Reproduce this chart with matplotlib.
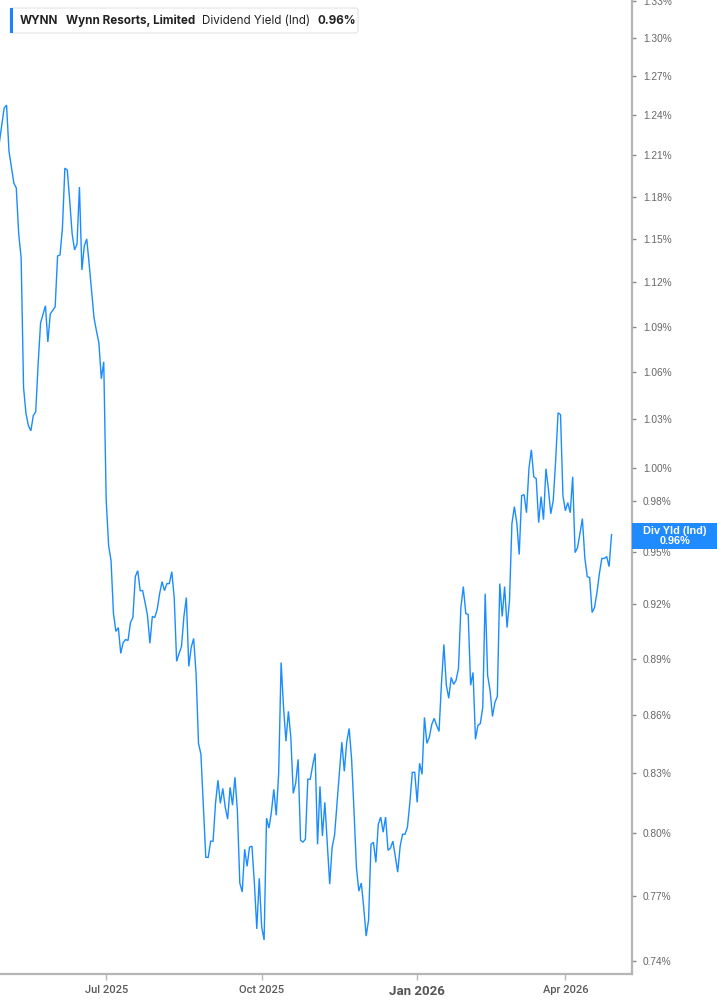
import numpy as np
import pandas as pd
import matplotlib
matplotlib.use("Agg")
import matplotlib.pyplot as plt
from matplotlib.ticker import FixedLocator, NullLocator, FixedFormatter
from matplotlib.patches import Rectangle, FancyBboxPatch

# ---------------- data ----------------
ticker_symbol = "WYNN"
company_name = "Wynn Resorts, Limited"
metric_name = "Dividend Yield (Ind)"
last_value_text = "0.96%"
box_title = "Div Yld (Ind)"

start_date = "2025-04-28"
market_holidays = ["2025-05-26", "2025-06-19", "2025-07-04", "2025-09-01",
                   "2025-11-27", "2025-12-25", "2026-01-01", "2026-01-19",
                   "2026-02-16", "2026-04-03", "2026-05-25"]

# trading-session number (0 = start_date) of each read point
session_early = [0, 2, 3, 4, 6, 7, 8, 9, 10, 11, 12, 13, 14, 15, 16, 17, 19, 20,
                 21, 23, 24, 25, 26, 27, 28, 29, 30, 31, 32, 33, 34, 35, 36, 37,
                 39, 40, 41, 42, 43]
session_daily = list(range(44, 253))   # consecutive sessions from here on

# dividend yield, percent
yield_early = [1.2192, 1.2455, 1.2478, 1.2132, 1.1898, 1.1862, 1.1534, 1.1366, 1.0500, 1.0335,
               1.0260, 1.0228, 1.0323, 1.0348, 1.0655, 1.0925, 1.1039, 1.0798, 1.0985, 1.1032,
               1.1380, 1.1387, 1.1576, 1.2007, 1.1992, 1.1768, 1.1534, 1.1422, 1.1464, 1.1869,
               1.1283, 1.1450, 1.1499, 1.1324, 1.0958, 1.0871, 1.0792, 1.0558, 1.0668]
yield_daily = [
    0.9807, 0.9536, 0.9449, 0.9148, 0.9049, 0.9070, 0.8928, 0.8988, 0.9004, 0.8999,
    0.9098, 0.9126, 0.9357, 0.9391, 0.9277, 0.9277, 0.9210, 0.9137, 0.8983, 0.9132,
    0.9126, 0.9171, 0.9260, 0.9328, 0.9277, 0.9317, 0.9317, 0.9385, 0.9238, 0.8885,
    0.8928, 0.8966, 0.9132, 0.9238, 0.8858, 0.8961, 0.9010, 0.8820, 0.8451, 0.8395,
    0.8138, 0.7883, 0.7883, 0.7961, 0.7961, 0.8147, 0.8263, 0.8147, 0.8222, 0.8128,
    0.8069, 0.8227, 0.8138, 0.8278, 0.8113, 0.7760, 0.7718, 0.7922, 0.7840, 0.7932,
    0.7937, 0.7760, 0.7546, 0.7783, 0.7555, 0.7495, 0.8074, 0.8025, 0.8103, 0.8217,
    0.8088, 0.8298, 0.8879, 0.8639, 0.8462, 0.8618, 0.8482, 0.8197, 0.8248, 0.8369,
    0.7966, 0.7956, 0.7971, 0.8268, 0.8268, 0.8339, 0.8400, 0.7946, 0.8232, 0.7986,
    0.8152, 0.7951, 0.7755, 0.7932, 0.7990, 0.8147, 0.8303, 0.8457, 0.8308, 0.8457,
    0.8528, 0.8374, 0.8113, 0.7835, 0.7722, 0.7760, 0.7647, 0.7513, 0.7587, 0.7946,
    0.7956, 0.7859, 0.8044, 0.8079, 0.8005, 0.8079, 0.7917, 0.7927, 0.7961, 0.7888,
    0.7812, 0.7937, 0.7995, 0.7995, 0.8030, 0.8152, 0.8303, 0.8303, 0.8152, 0.8349,
    0.8293, 0.8586, 0.8451, 0.8482, 0.8549, 0.8581, 0.8544, 0.8513, 0.8766, 0.8977,
    0.8756, 0.8687, 0.8798, 0.8761, 0.8782, 0.8847, 0.9182, 0.9300, 0.9148, 0.9143,
    0.8756, 0.8825, 0.8472, 0.8544, 0.8554, 0.8639, 0.9260, 0.8809, 0.8729, 0.8591,
    0.8665, 0.8697, 0.9317, 0.9132, 0.9300, 0.9070, 0.9221, 0.9664, 0.9765, 0.9670,
    0.9484, 0.9831, 0.9837, 0.9729, 0.9994, 1.0110, 0.9945, 0.9933, 0.9670, 0.9825,
    0.9688, 0.9994, 0.9873, 0.9723, 0.9801, 1.0043, 1.0341, 1.0329, 0.9831, 0.9741,
    0.9789, 0.9729, 0.9945, 0.9495, 0.9524, 0.9606, 0.9694, 0.9466, 0.9357, 0.9351,
    0.9154, 0.9182, 0.9266, 0.9374, 0.9461, 0.9461, 0.9472, 0.9414, 0.9600]

y_ticks = [0.74, 0.77, 0.80, 0.83, 0.86, 0.89, 0.92, 0.95, 0.98, 1.00, 1.03,
           1.06, 1.09, 1.12, 1.15, 1.18, 1.21, 1.24, 1.27, 1.30, 1.33]
x_tick_months = ["2025-07-01", "2025-10-01", "2026-01-01", "2026-04-01"]
x_tick_labels = ["Jul 2025", "Oct 2025", "Jan 2026", "Apr 2026"]

# ---------------- build ----------------
session = session_early + session_daily
div_yield = yield_early + yield_daily
n = min(len(session), len(div_yield))
session, div_yield = session[:n], div_yield[:n]

calendar = pd.bdate_range(start=start_date, end="2026-07-31", freq="C",
                          holidays=market_holidays)
tick_pos = [int(np.searchsorted(calendar.values, np.datetime64(m))) for m in x_tick_months]

W, H = 717, 1005
fig = plt.figure(figsize=(W / 100, H / 100), dpi=100)
fig.patch.set_facecolor("white")
ax = fig.add_axes([0, 31 / H, 631.7 / W, 974 / H])

line_color = "#1a8cff"
ax.plot(session, div_yield, color=line_color, lw=1.0, solid_joinstyle="miter")

ax.set_yscale("log")
ax.set_ylim(0.7341, 1.3305)
ax.set_xlim(0.3, 260.3)

ax.yaxis.set_major_locator(FixedLocator(y_ticks))
ax.yaxis.set_minor_locator(NullLocator())
ax.yaxis.set_major_formatter(FixedFormatter([f"{v:.2f}%" for v in y_ticks]))
ax.yaxis.tick_right()
ax.xaxis.set_major_locator(FixedLocator(tick_pos))
ax.xaxis.set_minor_locator(NullLocator())
ax.xaxis.set_major_formatter(FixedFormatter(x_tick_labels))

for side in ["left", "top"]:
    ax.spines[side].set_visible(False)
for side in ["right", "bottom"]:
    ax.spines[side].set_color("#b5b5b5")
    ax.spines[side].set_linewidth(1.6)

ax.tick_params(axis="y", which="major", direction="out", length=3, width=1.0,
               color="#888888", pad=5, labelsize=7.3, labelcolor="#666666")
ax.tick_params(axis="x", which="major", direction="out", length=4, width=1.0,
               color="#b5b5b5", pad=4, labelsize=8, labelcolor="#5a5a5a")
for lab in ax.get_yticklabels():
    lab.set_fontfamily("Liberation Sans")
for lab in ax.get_xticklabels():
    lab.set_fontfamily("Roboto")
    lab.set_fontweight("medium")
    if lab.get_text().startswith("Jan"):
        lab.set_fontweight("bold")
        lab.set_fontsize(9.5)
        lab.set_color("#555555")

# ---------------- legend box ----------------
def fx(px):
    return px / W

def fy(py):
    return 1 - py / H

fig.patches.append(FancyBboxPatch((fx(10), fy(33)), fx(358) - fx(10), fy(8) - fy(33),
                                  boxstyle="round,pad=0,rounding_size=0.003",
                                  transform=fig.transFigure, facecolor="white",
                                  edgecolor="#e4e4e4", linewidth=0.8, zorder=5))
fig.patches.append(Rectangle((fx(10), fy(33)), fx(3), fy(8) - fy(33),
                             transform=fig.transFigure, facecolor="#1a84ff",
                             edgecolor="none", zorder=6))
legend_items = [(20, ticker_symbol, "bold"), (66, company_name, "bold"),
                (202, metric_name, "normal"), (317, last_value_text, "bold")]
for px, txt, wt in legend_items:
    fig.text(fx(px), fy(20.5), txt, ha="left", va="center", fontsize=8.4,
             fontweight=wt, color="#222222", family="Inter", zorder=7)

# ---------------- last value box ----------------
fig.patches.append(Rectangle((fx(632), fy(549)), fx(717) - fx(632), fy(523) - fy(549),
                             transform=fig.transFigure, facecolor="#1f8bff",
                             edgecolor="none", zorder=8))
fig.text(fx(674.5), fy(530.5), box_title, ha="center", va="center", fontsize=7.8,
         fontweight="bold", color="white", family="Liberation Sans", zorder=9)
fig.text(fx(674.5), fy(541.5), last_value_text, ha="center", va="center", fontsize=7.8,
         fontweight="bold", color="white", family="Liberation Sans", zorder=9)

fig.savefig("out.png", dpi=100, facecolor="white")
